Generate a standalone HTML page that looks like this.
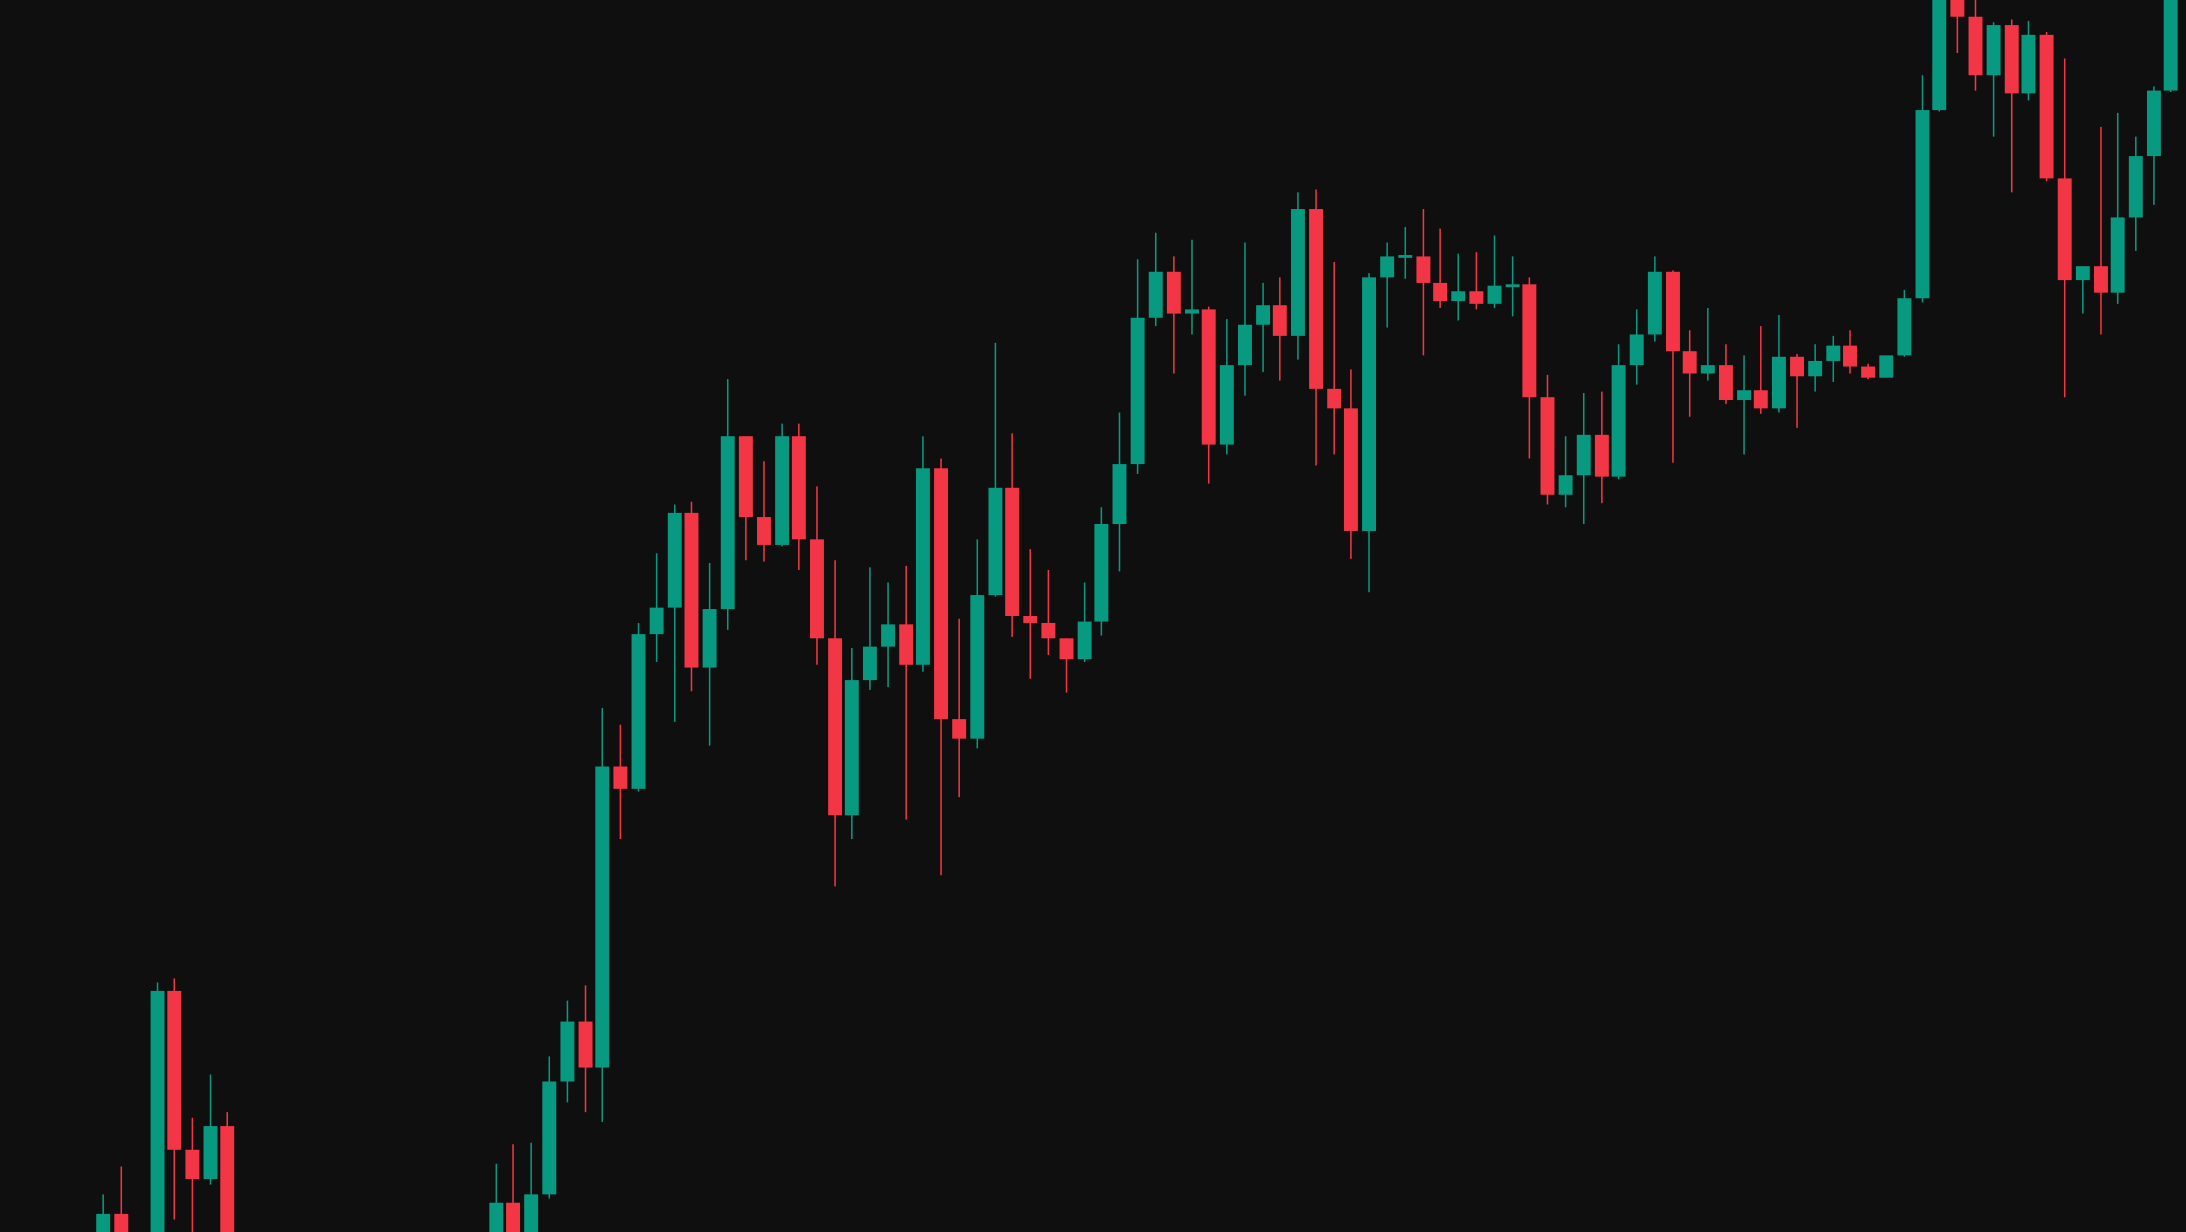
<!DOCTYPE html>
<html><head><meta charset="utf-8"><style>
html,body{margin:0;padding:0;background:#0f0f0f;overflow:hidden}
svg{display:block}
</style></head><body>
<svg width="2186" height="1232" viewBox="0 0 1568 884" preserveAspectRatio="none" xmlns="http://www.w3.org/2000/svg">
<rect width="1568" height="884" fill="#0f0f0f"/>
<g stroke="#089981" stroke-width="1.1" fill="none">
<path d="M74 857V884M113 705V884M151 771V850M356 835V884M381 820V884M394 758V860M407 718V791M432 508V805M458 447V568M471 397V475M484 362V518M509 404V535M522 272V452M561 304V392M611 465V602M624 407V495M637 418V493M662 313V482M701 387V537M714 246V428M778 418V475M790 364V456M803 296V410M816 186V340M829 167V234M855 172V240M880 229V326M893 174V284M906 203V267M931 138V258M982 196V425M995 174V235M1008 163V200M1046 182V230M1072 169V221M1085 184V227M1123 313V364M1136 282V376M1161 247V344M1174 222V276M1187 184V245M1225 221V273M1251 255V326M1276 226V296M1302 247V281M1315 241V274M1353 255V271M1366 208V256M1379 54V217M1391 -2V80M1430 16V98M1455 15V72M1494 191V225M1519 81V218M1532 98V180M1545 62V147M1557 -2V66"/>
</g>
<g stroke="#f23645" stroke-width="1.1" fill="none">
<path d="M87 837V884M125 702V875M138 802V884M163 798V884M368 821V884M420 707V798M445 520V602M496 360V496M535 313V402M548 331V403M573 304V409M586 349V477M599 402V636M650 406V588M675 329V628M688 444V572M726 311V457M739 394V487M752 409V470M765 458V497M842 184V268M867 220V347M918 199V273M944 136V334M957 188V326M969 265V401M1021 150V255M1033 164V221M1059 181V222M1097 199V329M1110 269V362M1149 281V361M1200 194V332M1212 237V299M1238 247V290M1263 234V297M1289 254V307M1327 237V268M1340 261V272M1404 -2V38M1417 -2V65M1443 14V138M1468 23V130M1481 42V285M1507 91V240"/>
</g>
<g fill="#089981">
<rect x="69" y="871" width="10" height="13"/>
<rect x="108" y="711" width="10" height="173"/>
<rect x="146" y="808" width="10" height="38"/>
<rect x="351" y="863" width="10" height="21"/>
<rect x="376" y="857" width="10" height="27"/>
<rect x="389" y="776" width="10" height="81"/>
<rect x="402" y="733" width="10" height="43"/>
<rect x="427" y="550" width="10" height="216"/>
<rect x="453" y="455" width="10" height="111"/>
<rect x="466" y="436" width="10" height="19"/>
<rect x="479" y="368" width="10" height="68"/>
<rect x="504" y="437" width="10" height="42"/>
<rect x="517" y="313" width="10" height="124"/>
<rect x="556" y="313" width="10" height="78"/>
<rect x="606" y="488" width="10" height="97"/>
<rect x="619" y="464" width="10" height="24"/>
<rect x="632" y="448" width="10" height="16"/>
<rect x="657" y="336" width="10" height="141"/>
<rect x="696" y="427" width="10" height="103"/>
<rect x="709" y="350" width="10" height="77"/>
<rect x="773" y="446" width="10" height="27"/>
<rect x="785" y="376" width="10" height="70"/>
<rect x="798" y="333" width="10" height="43"/>
<rect x="811" y="228" width="10" height="105"/>
<rect x="824" y="195" width="10" height="33"/>
<rect x="850" y="222" width="10" height="3"/>
<rect x="875" y="262" width="10" height="57"/>
<rect x="888" y="233" width="10" height="29"/>
<rect x="901" y="219" width="10" height="14"/>
<rect x="926" y="150" width="10" height="91"/>
<rect x="977" y="199" width="10" height="182"/>
<rect x="990" y="184" width="10" height="15"/>
<rect x="1003" y="183" width="10" height="2"/>
<rect x="1041" y="209" width="10" height="7"/>
<rect x="1067" y="205" width="10" height="13"/>
<rect x="1080" y="204" width="10" height="2"/>
<rect x="1118" y="341" width="10" height="14"/>
<rect x="1131" y="312" width="10" height="29"/>
<rect x="1156" y="262" width="10" height="80"/>
<rect x="1169" y="240" width="10" height="22"/>
<rect x="1182" y="195" width="10" height="45"/>
<rect x="1220" y="262" width="10" height="6"/>
<rect x="1246" y="280" width="10" height="7"/>
<rect x="1271" y="256" width="10" height="37"/>
<rect x="1297" y="259" width="10" height="11"/>
<rect x="1310" y="248" width="10" height="11"/>
<rect x="1348" y="255" width="10" height="16"/>
<rect x="1361" y="214" width="10" height="41"/>
<rect x="1374" y="79" width="10" height="135"/>
<rect x="1386" y="-2" width="10" height="81"/>
<rect x="1425" y="18" width="10" height="36"/>
<rect x="1450" y="25" width="10" height="42"/>
<rect x="1489" y="191" width="10" height="10"/>
<rect x="1514" y="156" width="10" height="54"/>
<rect x="1527" y="112" width="10" height="44"/>
<rect x="1540" y="65" width="10" height="47"/>
<rect x="1552" y="-2" width="10" height="67"/>
</g>
<g fill="#f23645">
<rect x="82" y="871" width="10" height="13"/>
<rect x="120" y="711" width="10" height="114"/>
<rect x="133" y="825" width="10" height="21"/>
<rect x="158" y="808" width="10" height="76"/>
<rect x="363" y="863" width="10" height="21"/>
<rect x="415" y="733" width="10" height="33"/>
<rect x="440" y="550" width="10" height="16"/>
<rect x="491" y="368" width="10" height="111"/>
<rect x="530" y="313" width="10" height="58"/>
<rect x="543" y="371" width="10" height="20"/>
<rect x="568" y="313" width="10" height="74"/>
<rect x="581" y="387" width="10" height="71"/>
<rect x="594" y="458" width="10" height="127"/>
<rect x="645" y="448" width="10" height="29"/>
<rect x="670" y="336" width="10" height="180"/>
<rect x="683" y="516" width="10" height="14"/>
<rect x="721" y="350" width="10" height="92"/>
<rect x="734" y="442" width="10" height="5"/>
<rect x="747" y="447" width="10" height="11"/>
<rect x="760" y="458" width="10" height="15"/>
<rect x="837" y="195" width="10" height="30"/>
<rect x="862" y="222" width="10" height="97"/>
<rect x="913" y="219" width="10" height="22"/>
<rect x="939" y="150" width="10" height="129"/>
<rect x="952" y="279" width="10" height="14"/>
<rect x="964" y="293" width="10" height="88"/>
<rect x="1016" y="184" width="10" height="19"/>
<rect x="1028" y="203" width="10" height="13"/>
<rect x="1054" y="209" width="10" height="9"/>
<rect x="1092" y="204" width="10" height="81"/>
<rect x="1105" y="285" width="10" height="70"/>
<rect x="1144" y="312" width="10" height="30"/>
<rect x="1195" y="195" width="10" height="57"/>
<rect x="1207" y="252" width="10" height="16"/>
<rect x="1233" y="262" width="10" height="25"/>
<rect x="1258" y="280" width="10" height="13"/>
<rect x="1284" y="256" width="10" height="14"/>
<rect x="1322" y="248" width="10" height="15"/>
<rect x="1335" y="263" width="10" height="8"/>
<rect x="1399" y="-2" width="10" height="14"/>
<rect x="1412" y="12" width="10" height="42"/>
<rect x="1438" y="18" width="10" height="49"/>
<rect x="1463" y="25" width="10" height="103"/>
<rect x="1476" y="128" width="10" height="73"/>
<rect x="1502" y="191" width="10" height="19"/>
</g>
</svg>
</body></html>
